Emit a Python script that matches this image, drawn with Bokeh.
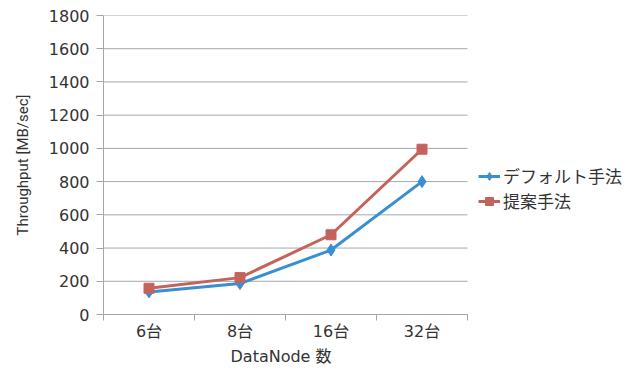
from bokeh.plotting import figure
from bokeh.models import FixedTicker, Legend, LegendItem, Title
from bokeh.embed import file_html
from bokeh.resources import INLINE

# DataNode counts and measured throughput (MB/sec)
nodes = ["6台", "8台", "16台", "32台"]
default_method = [136, 186, 388, 800]
proposed_method = [158, 222, 480, 995]
y_ticks = [0, 200, 400, 600, 800, 1000, 1200, 1400, 1600, 1800]

BLUE = "#3A8FD0"
RED = "#C4625C"
GRID = "#A3A7AB"
TEXT = "#333333"
FONT = "'DejaVu Sans', 'Noto Sans CJK JP', sans-serif"
JP = "'Noto Sans CJK JP', sans-serif"

# categories sit at the centres of unit-wide slots
n = len(nodes)
xs = [i + 0.5 for i in range(n)]

# the frame runs on to the right edge so the legend has room beside the plot;
# one slot is 91 px wide
LEFT, WIDTH, SLOT = 103, 641, 91
x_end = (WIDTH - LEFT) / SLOT

p = figure(width=WIDTH, height=371, output_backend="svg", toolbar_location=None,
           x_range=(0, x_end), y_range=(0, 1800),
           min_border_left=LEFT, min_border_right=0,
           min_border_top=15, min_border_bottom=57)
p.outline_line_color = None
p.background_fill_color = "white"
p.border_fill_color = "white"

# horizontal gridlines, limited to the category span
p.xgrid.visible = False
p.ygrid.visible = False
p.segment(x0=[0] * len(y_ticks), x1=[n] * len(y_ticks), y0=y_ticks, y1=y_ticks,
          line_color=GRID, line_width=1)

# y axis
p.yaxis.ticker = FixedTicker(ticks=y_ticks)
p.yaxis.axis_line_color = GRID
p.yaxis.major_tick_line_color = GRID
p.yaxis.major_tick_out = 7
p.yaxis.major_tick_in = 0
p.yaxis.minor_tick_line_color = None
p.yaxis.major_label_text_font = FONT
p.yaxis.major_label_text_font_size = "16px"
p.yaxis.major_label_text_color = TEXT
p.yaxis.major_label_standoff = 7
p.yaxis.axis_label = "Throughput [MB/sec]"
p.yaxis.axis_label_text_font = "'Liberation Sans Narrow', 'Roboto', sans-serif"
p.yaxis.axis_label_text_font_style = "normal"
p.yaxis.axis_label_text_font_size = "15px"
p.yaxis.axis_label_text_color = TEXT
p.yaxis.axis_label_standoff = 14

# x axis: labels at slot centres, tick marks on slot boundaries
p.xaxis.bounds = (0, n)
p.xaxis.ticker = FixedTicker(ticks=xs, minor_ticks=list(range(n + 1)))
p.xaxis.major_label_overrides = {x: lab for x, lab in zip(xs, nodes)}
p.xaxis.axis_line_color = GRID
p.xaxis.major_tick_line_color = None
p.xaxis.major_tick_out = 0
p.xaxis.major_tick_in = 0
p.xaxis.minor_tick_line_color = GRID
p.xaxis.minor_tick_out = 6
p.xaxis.minor_tick_in = 0
p.xaxis.major_label_text_font = FONT
p.xaxis.major_label_text_font_size = "16px"
p.xaxis.major_label_text_color = TEXT
p.xaxis.major_label_standoff = 1

# x axis title, centred under the category span rather than the whole frame
p.add_layout(Title(text="DataNode 数", align="left", offset=127, standoff=2,
                   text_font=FONT, text_font_size="16px",
                   text_font_style="normal", text_color=TEXT), "below")

# series
l1 = p.line(xs, default_method, line_color=BLUE, line_width=3)
m1 = p.scatter(xs, default_method, marker="diamond", size=12,
               fill_color=BLUE, line_color=BLUE)
l2 = p.line(xs, proposed_method, line_color=RED, line_width=3)
m2 = p.scatter(xs, proposed_method, marker="square", size=10,
               fill_color=RED, line_color=RED)

legend = Legend(items=[LegendItem(label="デフォルト手法", renderers=[l1, m1]),
                       LegendItem(label="提案手法", renderers=[l2, m2])],
                location=(375, 101))
legend.border_line_color = None
legend.background_fill_alpha = 0
legend.padding = 0
legend.margin = 0
legend.spacing = -3
legend.glyph_width = 22
legend.glyph_height = 20
legend.label_height = 20
legend.label_standoff = 3
legend.label_text_font = JP
legend.label_text_font_size = "17px"
legend.label_text_color = TEXT
p.add_layout(legend)

open("out.html", "w").write(file_html(p, INLINE))
